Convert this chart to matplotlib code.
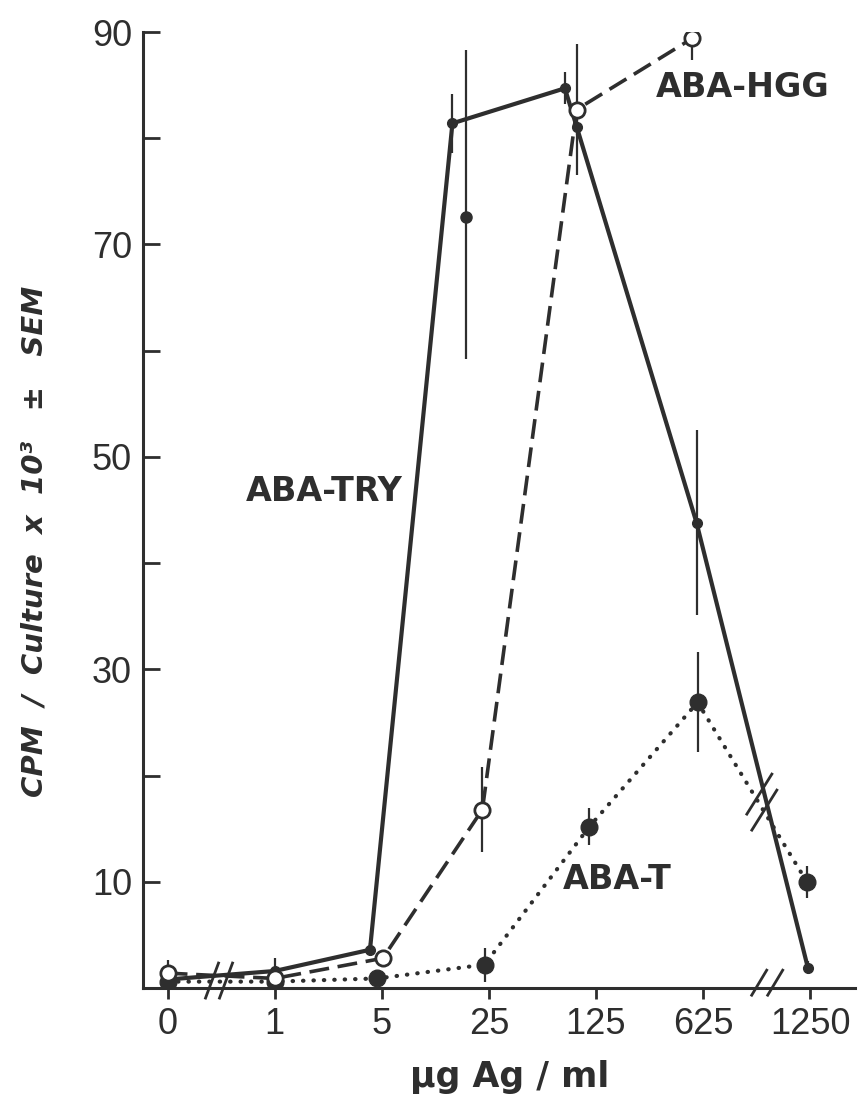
import matplotlib
matplotlib.use('Agg')

import matplotlib.pyplot as plt
from matplotlib.transforms import IdentityTransform

# antigen dose (ug/ml), plotted on an equally spaced categorical axis
doses = ['0', '1', '5', '25', '125', '625', '1250']

# ABA-TRY (solid line, small filled dots)
try_x = [0, 1, 1.89, 2.66, 3.71, 3.82, 4.94, 5.98]
try_y = [0.8, 1.6, 3.6, 81.4, 84.7, 81.1, 43.8, 1.9]
try_err = [0.4, 1.2, 0.6, 2.8, 1.5, 0.8, 8.7, 0.6]

# second ABA-TRY culture at 25 ug/ml
try2_x = [2.79]
try2_y = [72.6]
try2_err = [[13.4], [15.7]]

# ABA-HGG (dashed line, open circles)
hgg_x = [0, 1, 2.01, 2.94, 3.82, 4.90]
hgg_y = [1.4, 0.9, 2.8, 16.8, 82.7, 89.4]
hgg_err = [1.2, 0.5, 0.4, 4.0, 6.2, 2.0]

# ABA-T (dotted line, large filled dots)
t_x = [0, 1, 1.96, 2.96, 3.94, 4.95, 5.97]
t_y = [0.6, 0.6, 0.9, 2.2, 15.2, 26.9, 10.0]
t_err = [0.3, 0.3, 0.5, 1.6, 1.7, 4.7, 1.5]

ink = '#2e2e2e'
tickfont = 'Liberation Sans'

fig = plt.figure(figsize=(8.61, 11.01), dpi=100)
ax = fig.add_axes([143 / 861, 113 / 1101, 712 / 861, 956 / 1101])

# error bars first so the markers sit on top
ax.errorbar(try_x, try_y, yerr=try_err, fmt='none', ecolor=ink, elinewidth=1.6, capsize=0, zorder=2)
ax.errorbar(try2_x, try2_y, yerr=try2_err, fmt='none', ecolor=ink, elinewidth=1.6, capsize=0, zorder=2)
ax.errorbar(hgg_x, hgg_y, yerr=hgg_err, fmt='none', ecolor=ink, elinewidth=1.6, capsize=0, zorder=2)
ax.errorbar(t_x, t_y, yerr=t_err, fmt='none', ecolor=ink, elinewidth=1.6, capsize=0, zorder=2)

ax.plot(try_x, try_y, '-', color=ink, lw=3, marker='o', ms=7, mfc=ink, mec=ink, zorder=4)
ax.plot(try2_x, try2_y, 'o', color=ink, ms=8, zorder=4)
ax.plot(hgg_x, hgg_y, color=ink, lw=2.6, ls=(0, (5.5, 2.4)), marker='o', ms=11, mfc='white',
        mec=ink, mew=2, zorder=5)
ax.plot(t_x, t_y, color=ink, lw=3, ls=(0, (0.1, 2.4)), dash_capstyle='round', marker='o', ms=12,
        mfc=ink, mec=ink, zorder=3)

ax.set_xlim(-0.23, 6.42)
ax.set_ylim(0, 90)

for side in ['top', 'right']:
    ax.spines[side].set_visible(False)
for side in ['left', 'bottom']:
    ax.spines[side].set_linewidth(2.2)
    ax.spines[side].set_color(ink)

ax.set_xticks(range(len(doses)))
ax.set_xticklabels(doses, fontsize=26, family=tickfont, color=ink)
ax.set_yticks([10, 30, 50, 70, 90])
ax.set_yticks([20, 40, 60, 80], minor=True)
ax.set_yticklabels(['10', '30', '50', '70', '90'], fontsize=26, family=tickfont, color=ink)
ax.tick_params(axis='x', direction='out', length=8, width=2, color=ink, pad=6)
ax.tick_params(axis='y', which='both', direction='in', length=12, width=2, color=ink, pad=8)


def slashes(x, y, w, h, dx, dy):
    # pair of parallel break marks centred on data point (x, y), sizes in pixels
    cx, cy = ax.transData.transform((x, y))
    for s in (-0.5, 0.5):
        ox, oy = cx + s * dx, cy + s * dy
        ax.plot([ox - w / 2, ox + w / 2], [oy - h / 2, oy + h / 2], color=ink, lw=2,
                transform=IdentityTransform(), clip_on=False, zorder=6)


slashes(0.48, 0.7, 13, 35, 14, 0)
slashes(5.60, 0.5, 15, 25, 16, 0)
slashes(5.55, 17.5, 25, 40, 5, -16)

lab = dict(fontsize=24, fontweight='bold', color=ink, ha='center', va='center')
ax.text(5.37, 84.8, 'ABA-HGG', **lab)
ax.text(1.46, 46.7, 'ABA-TRY', **lab)
ax.text(4.20, 10.2, 'ABA-T', **lab)

fig.text(35 / 861, 1 - 541 / 1101, 'CPM  /  Culture  x  10³   ±   SEM', rotation=90, fontsize=21,
         fontweight='bold', fontstyle='italic', color=ink, ha='center', va='center')
fig.text(510 / 861, 1 - 1077 / 1101, 'µg Ag / ml', fontsize=25, fontweight='bold', color=ink,
         ha='center', va='center')

fig.savefig('out.png', dpi=100)
